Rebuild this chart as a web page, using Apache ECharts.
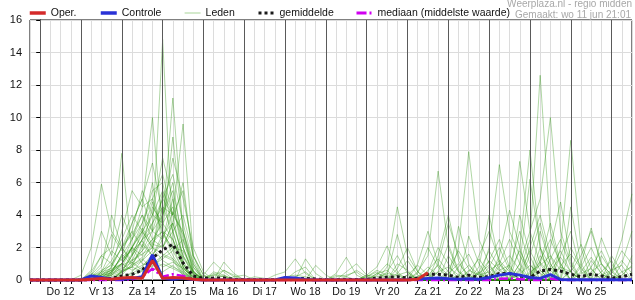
<!DOCTYPE html>
<html><head><meta charset="utf-8">
<script src="https://cdn.jsdelivr.net/npm/echarts/dist/echarts.min.js"></script>
<style>html,body{margin:0;padding:0;background:#fff}#c{width:635px;height:300px}</style>
</head><body><div id="c"></div>
<script>
// x sampling: 6-hourly, starting Wo 11 18:00 (hour -6 relative to Do 12 00:00)
const startHour = -6, stepHours = 6;
const dayLabels = ['Do 12','Vr 13','Za 14','Zo 15','Ma 16','Di 17','Wo 18','Do 19','Vr 20','Za 21','Zo 22','Ma 23','Di 24','Wo 25'];
const yTicks = [0,2,4,6,8,10,12,14,16];

const oper = [
 0,0,0,0,0,0,0.05,0.1,0.05,0.12,
 0.15,0.1,1.2,0.1,0.15,0.12,0.05,0,0,0,
 0,0,0,0,0,0,0,0,0,0,
 0,0,0,0,0,0,0,0,0.05,0.45];
const controle = [
 0,0,0,0,0,0,0.25,0.15,0.05,0.05,
 0.1,0.2,1.55,0.1,0.05,0.1,0.03,0,0,0,
 0,0,0,0,0,0.15,0.12,0.03,0,0,
 0,0,0,0,0,0,0,0.02,0.05,0.1,
 0.12,0.08,0.05,0.08,0.05,0.15,0.3,0.4,0.3,0.15,
 0.1,0.33,0.03,0.02,0.02,0.02,0.02,0.02,0.02,0.02];
const gemiddelde = [
 0,0,0,0,0,0,0.03,0.06,0.1,0.25,
 0.35,0.6,1.35,1.85,2.2,1.05,0.25,0.1,0.12,0.12,
 0.04,0.02,0.02,0.02,0.02,0.04,0.08,0.1,0.06,0.02,
 0.02,0.03,0.03,0.04,0.12,0.17,0.2,0.12,0.1,0.35,
 0.35,0.3,0.15,0.3,0.15,0.2,0.4,0.4,0.25,0.15,
 0.55,0.65,0.55,0.35,0.2,0.35,0.25,0.1,0.2,0.35];
const mediaan = [
 0,0,0,0,0,0,0,0,0,0,
 0.05,0.2,0.7,0.2,0.35,0.25,0.05,0,0,0,
 0,0,0,0,0,0,0,0,0,0,
 0,0,0,0,0,0,0,0,0,0,
 0,0,0,0,0,0,0.08,0.1,0.05,0,
 0,0.08,0,0,0,0,0,0,0,0];

const leden01 = [0,0,0,0,0,0,0,0,0,0.5, 1.5,2.5,3,14.8,2.5,0.8,0.2,0,0,0, 0,0,0,0,0,0,0,0,0,0, 0,0,0,0,0,0,0.3,0.5,0,0, 0,0,0,0,0.4,1.2,2.5,0.8,0,0, 1.5,0.6,0,0,0,0,0,0,0,0];
const leden02 = [0,0,0,0,0,0,0,0,0.5,1, 2,3,4,3.5,11.2,3,0.5,0,0,0, 0,0,0,0,0,0,0,0,0,0, 0,0,0,0,0,0,0,0,0,0, 1.5,4,1.2,0,0,0,0,0,0.6,2.5, 12.6,3,0.8,0,0,0,0,0,0,0];
const leden03 = [0,0,0,0,0,0,0,0.3,0.6,1, 2,3,2,4.5,4,9.6,1.5,0.3,0,0, 0,0,0,0,0,0,0,0,0,0, 0,0,0,0.3,0.8,2.1,0.5,0,0,0, 0,0,2,7.9,2.5,1,0,0,0,0, 0,0,0,0.5,1.5,3,1,0.3,0,0];
const leden04 = [0,0,0,0,0,0,0,0,0.5,1.5, 2.5,4.5,10,3,1.5,0.5,0,0,0,0, 0,0,0,0,0,0,0,0,0,0, 0,0,0,0,0,0,0,0,0.5,1.5, 6.7,2,0.5,0,0,0,0,1,7.3,3, 1,0,0,0,0,0,0,0,0,0];
const leden05 = [0,0,0,0,0,0,0.5,1.5,2,7.8, 1.5,2.5,4,5.5,4,1,0,0,0,0, 0,0,0,0,0,0,0,0,0,0, 0,0,0,0,0,0.8,4.5,1.5,0.5,0, 0,0,0,0,0,2,7.1,3,1.5,0.5, 0,0,0,0,0,0,0,0,0,0];
const leden06 = [0,0,0,0,0,0.3,2,5.9,3,2, 3.5,5,7.2,4,5.5,2.5,0.5,0,0,0, 0,0,0,0,0,0,0,0,0,0, 0.4,1.4,0.3,0,0,0,0,0,0,0, 0,0,0,0,0,0,0,0,0,0, 0,2,4.8,1.2,0,0,0,0,0,0];
const leden07 = [0,0,0,0,0,0,0,0.3,0.8,3, 5.5,4.5,5,3,8.8,3,0.8,0,0,0, 0,0,0,0,0,0,0,1.3,0.4,0, 0,0,0,0,0,0,0,0,0,0, 0,0,0,0,0,0,0,0,0,0, 0,0,0,2,0.8,0,1.5,0.5,2.5,5.3];
const leden08 = [0,0,0,0,0,0,0,0,0.3,1, 2,3.5,5,6.5,4,5.5,1.5,0,0,0.6, 0.3,0,0,0,0,0,0,0,0,0, 0,0,0,0,0,0,0,0,0,0, 0,0,0,0,0,0,1.5,4.3,2,0, 0,0,2,8.6,2,0,0,0,0,0];
const leden09 = [0,0,0,0,0,0,0,0.2,0.5,1, 2.5,4,3,5,6.5,3.5,1,0,0,1.1, 0.4,0,0,0,0,0,0,0,0,0, 0,0,0,0,0,0,0,0,0,0, 0,0,0,0,0,0,0,0,1,3, 5,10,3,1,0,0,0,0,0,0];
const leden10 = [0,0,0,0,0,0,0,0,0,0.5, 1.5,3,2,4,7.5,5,2,0.5,0,0, 0,0,0,0,0,0,0,0,0,0, 0,0,0,0,0,0,0,0,0,0, 0,0,0,0,1.5,3,1.2,0,1,6.2, 2,0,0,0,0,0,0,0,0,0];
const leden11 = [0,0,0,0,0,0,0.2,0.8,4,2, 1,2,3.5,4.5,3,1,0,0,0,0, 0,0,0,0,0,0,0.5,0.8,0,0, 0,0,0,0.2,0.5,0,0,0,0,0, 0,0,0,2.7,1,0,0,0,0,0, 0,0,0,0,1,3.2,1,0,0,0];
const leden12 = [0,0,0,0,0,0,0,0.5,1.8,1.2, 2,1.5,2.5,3.5,4.5,2,0.3,0,0,0, 0,0,0,0,0,0,0,0,0,0, 0,0,0,0,0,0,0,0,0,0, 1,3.5,1.5,0,0,0,0,0,0,2, 4,1.5,0,0,0,0,0,0,0,0];
const leden13 = [0,0,0,0,0,0,0,0,0,0.3, 1,1.8,2.5,2,3.5,6,1.2,0,0,0, 0,0,0,0,0,0,0,0,0,0, 0,0,0,0,0,0,0,0,0,0.5, 2,1,0,0,0,0,1,2.5,1,0, 0,0,0,0,0,0,2.6,1,0,0];
const leden14 = [0,0,0,0,0,0,0.3,1.5,1,0.5, 0.8,1.2,1.8,5.5,2,0.6,0,0,0,0, 0,0,0,0,0,0,0,0,0,0, 0,0,0,0,0,0,1,0.6,0,0, 0,0,0,0,0.8,4,1,0,0,0, 0,0,1.5,3,0.5,0,0,0,0,0];
const leden15 = [0,0,0,0,0,0,0,0,0.2,0.5, 0.8,2.2,1.5,2.5,5,1.2,0,0,0,0, 0,0,0,0,0,0,0,0,0.9,0.3, 0,0,0,0,0,0,0,0,0,0, 0,0,3.3,1,0,0,0,0,0,0, 1,3.5,1,0,0,0,0,0,0,0];
const leden16 = [0,0,0,0,0,0,0,0,0,0, 0.5,1.2,2.3,3,2.5,0.8,0,0.3,1.1,0.5, 0,0,0,0,0,0,0,0,0,0, 0,0,0,0,0,0,0,0,0,0, 0,0,0,0,0,0,0,0,4,1.5, 0,0,0,0,0,0,0,1.5,0.5,0];
const leden17 = [0,0,0,0,0,0,0.1,0.4,0.6,1.4, 2,1,0.8,1.5,1.2,0.3,0,0,0,0, 0,0,0,0,0,0,0,0,0,0, 0,0,0,0,0,0.3,2.8,0.5,0,0, 0,0,0,0,0,0.8,2,0.6,0,0, 0,0,0,0,0,1.2,0.4,0,1,3];
const leden18 = [0,0,0,0,0,0,0,0,0,0.2, 0.4,0.8,1.6,2.2,1.3,0.4,0,0,0,0, 0,0,0,0,0,0,0,0,0,0, 0,0.5,1,0.3,0,0,0,0,0.4,2, 0.8,0,0,0,0,0,0,0,2,8, 2,0,0,0,0,0,0,0,0,0];
const leden19 = [0,0,0,0,0,0,0,0,0.4,0.7, 1.1,0.6,1,1.5,2,1.8,0.5,0,0,0, 0,0,0,0,0,0,0,0,0,0, 0,0,0,0,0,0,0,0,0,0, 0,1.5,0.5,0,0,0,0,0,0,0, 3,1,0,4.5,1,0,0,0,0,0];
const leden20 = [0,0,0,0,0,0,0,0.3,0.4,0.9, 1.2,1.6,2,1.2,0.8,0.5,0,0,0,0, 0,0,0,0,0.3,0.5,1.3,0.4,0,0, 0,0,0,0,0,0,0,0,0,0, 0,0,0,0,0,1.2,0.6,0,0,0, 0,1.3,2.5,0.8,0,0,0,0,0,0];
const leden21 = [0,0,0,0,0,0,0,0,0,0, 0.3,0.6,0.9,1.3,1.8,2.5,0.8,0,0.4,0.2, 0,0,0,0,0,0,0,0,0,0, 0,0,0,0,0,0,0,0,1,3, 1,0,0,0,0,0,0,0,0,0, 0,0,0,0,0.8,2,0.6,0,0,0];
const leden22 = [0,0,0,0,0,0,0.4,0.2,0,0.5, 0.9,1.3,0.7,0.5,0.9,0.3,0,0,0,0, 0,0,0,0,0,0,0,0,0,0, 0,0,0,0,0,0,0.7,2,0.5,0, 0,0,0,0,0,0,0,0.8,3,1, 0,0,0,0,0,0,0,0.5,1.8,1];
const leden23 = [0,0,0,0,0,0,0.2,0.5,0.7,1, 0.6,0.9,1.4,0.8,1.1,0.7,0.2,0,0.5,0.3, 0,0,0.2,0.1,0,0,0,0,0,0, 0.2,0.3,0.5,0,0.4,0.6,0,0.3,0,0, 0.5,0.8,0.3,0,0.5,0,0.6,0.9,0,0.5, 0.9,1.5,0.6,0,0.4,0.7,0,0,0.5,0.8];
const leden24 = [0,0,0,0,0,0,0,0.2,0.3,0.6, 0.8,0.5,0.6,1,0.7,0.4,0,0.2,0.3,0.2, 0,0,0,0,0,0.2,0.3,0.2,0,0, 0,0,0,0.3,0.2,0.4,0.3,0,0.2,0.4, 0,0,0,0.6,0.3,0.5,0,0,0.7,0, 0.6,0,0.8,0.5,0,0,0.3,0.6,0,0];
const leden25 = [0,0,0,0,0,0,0,0.5,1.2,2.5, 4,3,6,2,3.5,1.5,0.3,0,0,0, 0,0,0,0,0,0,0,0,0,0, 0,0,0,0,0.3,1,0.4,0,0,0, 0,0.6,1.8,0.7,0,0,0,0,0,0, 1.2,2.5,1,0,0,0.8,1.8,0.5,0,0];
const leden26 = [0,0,0,0,0,0,0,0,0.8,2, 3,5.5,4,7.5,5,2,0.5,0,0,0, 0,0,0,0,0,0,0,0,0,0, 0,0,0,0,0,0,0,0,0,0.6, 1.3,0.5,0,0,0,0,0.8,1.5,0.6,0, 0,0,0.9,1.6,0.7,0,0,0,0,1.5];
const leden27 = [0,0,0,0,0,0,0.6,3,1.5,4, 2.5,3.5,5.5,6,3,0.8,0,0,0.3,0.6, 0.2,0,0,0,0,0,0,0,0,0, 0,0,0,0,0,0,0,0,0,0, 0,0,0,0,0.5,1.8,0.7,0,0,1.5, 3.5,1,0,0,0,0,0,0,0,0];
const leden28 = [0,0,0,0,0,0,0,0.2,0.5,1.5, 3.5,5,3,4,6,2,0.4,0,0,0, 0,0,0,0,0,0,0.2,0.5,0,0, 0,0,0,0,0,0.5,1.5,0.4,0,0, 0,0,0.8,1.6,0.4,0,0,0,0,0, 0,0.8,1.8,0.5,0,0,0,0,0,0];
const leden29 = [0,0,0,0,0,0,0.3,1,2.8,1.8, 3,2,4.5,3.5,2.5,1,0.2,0,0,0, 0,0,0,0,0,0,0,0,0,0, 0,0.2,0.6,0.2,0,0,0,0,0,0, 0.5,2.2,0.6,0,0,0,0,0,0.5,1.8, 0.6,0,0,0,0,0,0,0.4,1.2,0.4];
const leden30 = [0,0,0,0,0,0,0,0,0,0.4, 1.2,2.5,3.5,5,4,3,1,0,0,0, 0,0,0,0,0,0,0,0,0,0, 0,0,0,0,0,0,0,0,0.2,0.8, 0.3,0,0,0,0,0.4,1.2,0.5,0,0, 0,0,0,0.6,2.2,0.7,0,0,0,0];
const leden31 = [0,0,0,0,0,0,0,0.4,1,2, 1.2,1.8,3,2.5,4.2,2.8,0.6,0,0,0.3, 0,0,0,0,0,0,0,0,0,0, 0,0,0,0,0.4,0.2,0,0,0,0, 0,0,0,0.5,1.3,0.4,0,0,0,0, 2,0.8,0,0,0,0,0.5,1.2,0,0];
const leden32 = [0,0,0,0,0,0,0,0,0.3,0.8, 2,3.2,2.2,2,3,4,1.5,0.3,0,0, 0,0,0,0,0,0,0,0,0,0, 0,0,0,0,0,0,0.4,1.2,0.3,0, 0,0,0,0,0,0,0,0.5,1.8,0.6, 0,0,0,0,0,0.5,1,0.3,0,0];
const leden33 = [0,0,0,0,0,0,0.2,0.6,0.9,2, 2.8,4,2.5,3,1.8,0.6,0,0,0,0, 0,0,0,0,0,0,0,0,0,0, 0.3,0.2,0,0,0,0,0,0,0,0, 0,0.4,1,0.3,0,0,0,0,0,0, 0,0.6,1.4,0.5,0,0,0,0,0.3,0.9];
const leden34 = [0,0,0,0,0,0,0,0,0,0.6, 1.6,2.8,4.8,2.8,2,1.4,0.4,0,0,0, 0,0,0,0,0,0,0,0,0,0, 0,0,0,0,0,0,0,0,0,0.3, 0.9,0.3,0,0,0,0.6,1,0.3,0,0.4, 1.1,0.3,0,0,0,0,0,0,0,0];
const leden35 = [0,0,0,0,0,0,0,0.3,0.6,1.3, 1.8,2.4,1.5,2.8,3.5,1.5,0.5,0,0,0, 0.2,0.3,0,0,0,0,0,0,0,0, 0,0,0,0,0,0,0,0.3,0.9,0.3, 0,0,0,0,0.4,0.9,0,0,0,0, 0,0,0,0,0.5,1.4,0.4,0,0,0];
const leden36 = [0,0,0,0,0,0,0,0,0.4,1.6, 0.9,1.4,2,1.6,1.3,0.7,0.2,0,0,0, 0,0,0,0,0,0,0,0,0,0, 0,0,0,0.2,0.6,0.3,0,0,0,0, 0,0,0.3,0.9,0.3,0,0,0,0.4,0.9, 0.4,0,0,0,0,0,0,0.6,0.9,0];
const leden = [leden01,leden02,leden03,leden04,leden05,leden06,leden07,leden08,leden09,leden10,leden11,leden12,
  leden13,leden14,leden15,leden16,leden17,leden18,leden19,leden20,leden21,leden22,leden23,leden24,
  leden25,leden26,leden27,leden28,leden29,leden30,leden31,leden32,leden33,leden34,leden35,leden36];

const FONT = "'Liberation Sans', Arial, Helvetica, sans-serif";
const toPoints = arr => arr.map((v, i) => [startHour + stepHours * i, v]);
const xMin = startHour;
const xMax = startHour + stepHours * (leden01.length - 1);

const C_OPER = '#d42a2a', C_CTRL = '#2a32d6', C_LID = 'rgba(45,148,15,0.38)', C_MEAN = '#1a1a1a', C_MED = '#d000f0';

const series = [];
series.push({
  name: 'dagen', type: 'line', data: [], silent: true, z: 1,
  markLine: {
    silent: true, symbol: 'none', animation: false,
    label: { show: false }, emphasis: { disabled: true },
    lineStyle: { color: '#5a5a5a', width: 1, type: 'solid' },
    data: dayLabels.concat(['']).map((d, k) => ({ xAxis: k * 24 }))
  }
});
leden.forEach(arr => series.push({
  name: 'Leden', type: 'line', data: toPoints(arr), symbol: 'none', silent: true, z: 2,
  itemStyle: { color: C_LID }, lineStyle: { color: C_LID, width: 1 }, emphasis: { disabled: true }
}));
series.push({ name: 'mediaan (middelste waarde)', type: 'line', data: toPoints(mediaan), symbol: 'none', z: 3, clip: false,
  itemStyle: { color: C_MED }, lineStyle: { color: C_MED, width: 2.5, type: [9, 3, 2, 3] }, emphasis: { disabled: true } });
series.push({ name: 'gemiddelde', type: 'line', data: toPoints(gemiddelde), symbol: 'none', z: 4, clip: false,
  itemStyle: { color: C_MEAN }, lineStyle: { color: C_MEAN, width: 3, type: [3, 3], cap: 'butt' }, emphasis: { disabled: true } });
series.push({ name: 'Controle', type: 'line', data: toPoints(controle), symbol: 'none', z: 5, clip: false,
  itemStyle: { color: C_CTRL }, lineStyle: { color: C_CTRL, width: 3 }, emphasis: { disabled: true } });
series.push({ name: 'Oper.', type: 'line', data: toPoints(oper), symbol: 'none', z: 6, clip: false,
  itemStyle: { color: C_OPER }, lineStyle: { color: C_OPER, width: 3 }, emphasis: { disabled: true } });

const hiddenSym = { color: 'rgba(0,0,0,0)', borderColor: 'rgba(0,0,0,0)', borderWidth: 0, opacity: 0 };
function mkLegend(name, left, ls) {
  return { data: [{ name: name, itemStyle: hiddenSym, lineStyle: ls }], left: left, top: 7.5,
    padding: 0, itemWidth: 16, itemHeight: 12, selectedMode: false,
    itemStyle: hiddenSym, lineStyle: ls,
    textStyle: { fontSize: 10.5, color: '#111', fontFamily: FONT } };
}
const chart = echarts.init(document.getElementById('c'), null, { renderer: 'canvas' });
chart.setOption({
  animation: false,
  backgroundColor: '#fff',
  textStyle: { fontFamily: FONT },
  title: [
    { text: 'Weerplaza.nl - regio midden', right: 3, top: -1, padding: 0,
      textStyle: { fontSize: 10, color: '#a8a8a8', fontWeight: 'normal', fontFamily: FONT } },
    { text: 'Gemaakt: wo 11 jun 21:01', right: 4, top: 10, padding: 0,
      textStyle: { fontSize: 10, color: '#a8a8a8', fontWeight: 'normal', fontFamily: FONT } }
  ],
  legend: [
    mkLegend('Oper.', 28, { color: C_OPER, width: 3.5, type: 'solid' }),
    mkLegend('Controle', 99, { color: C_CTRL, width: 3.5, type: 'solid' }),
    mkLegend('Leden', 184, { color: '#b8dcaa', width: 1.2, type: 'solid' }),
    mkLegend('gemiddelde', 257, { color: C_MEAN, width: 3, type: [3, 3] }),
    mkLegend('mediaan (middelste waarde)', 355, { color: C_MED, width: 3, type: [10, 3, 2, 3] })
  ],
  grid: { left: 30, right: 0, top: 20, bottom: 20, show: true, borderColor: '#000', borderWidth: 1, backgroundColor: 'transparent' },
  xAxis: {
    type: 'value', min: xMin, max: xMax, interval: stepHours,
    axisLine: { show: true, lineStyle: { color: '#000', width: 1 } },
    axisTick: { show: true, length: 4, inside: false, lineStyle: { color: '#000' } },
    splitLine: { show: true, lineStyle: { color: '#dcdcdc', width: 1 } },
    axisLabel: {
      margin: 7, fontSize: 10.5, color: '#111', fontFamily: FONT,
      formatter: v => {
        const r = v - 12;
        if (r % 24 === 0) { const k = r / 24; return dayLabels[k] || ''; }
        return '';
      }
    }
  },
  yAxis: {
    type: 'value', min: yTicks[0], max: yTicks[yTicks.length - 1], interval: yTicks[1] - yTicks[0],
    axisLine: { show: true, lineStyle: { color: '#000', width: 1 } },
    axisTick: { show: true, length: 4, inside: false, lineStyle: { color: '#000' } },
    splitLine: { show: true, lineStyle: { color: '#dcdcdc', width: 1 } },
    axisLabel: { margin: 8, fontSize: 11, color: '#111', fontFamily: FONT }
  },
  series: series
});
</script>
</body></html>
